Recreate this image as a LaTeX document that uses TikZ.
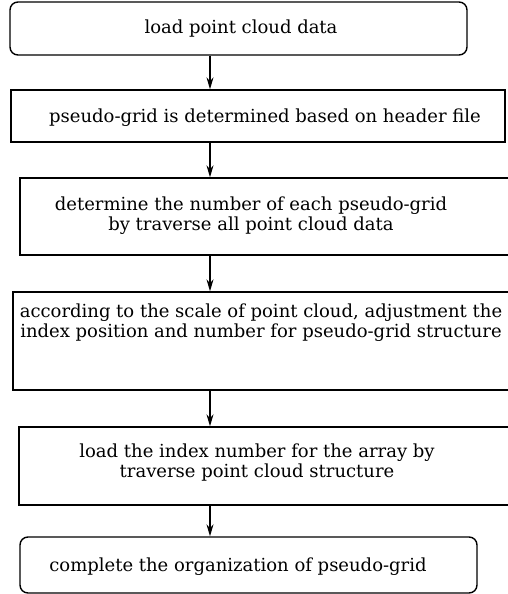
\documentclass[tikz,border=0pt]{standalone}
\usepackage{fontspec}
\setmainfont{DejaVu Serif}
\usetikzlibrary{arrows.meta}

\begin{document}
\begin{tikzpicture}[
  x=1pt, y=-1pt,
  stepbox/.style={draw, line width=1.4pt, inner sep=0pt},
  roundbox/.style={stepbox, rounded corners=8pt},
  txt/.style={align=center, inner sep=0pt, font=\fontsize{18}{20}\selectfont},
  arrow/.style={-{Stealth[length=12pt, width=7pt]}, line width=1.3pt}
]
  \useasboundingbox (0,0) rectangle (507,594);
  % boxes
  \node[roundbox, minimum width=457pt, minimum height=53pt] (load) at (238.5,28.5) {};
  \node[stepbox, minimum width=494pt, minimum height=52pt] (grid) at (258,116) {};
  \node[stepbox, minimum width=510pt, minimum height=77pt] (count) at (275,216.5) {};
  \node[stepbox, minimum width=517pt, minimum height=98pt] (adjust) at (271.5,341) {};
  \node[stepbox, minimum width=511pt, minimum height=78pt] (index) at (274.5,466) {};
  \node[roundbox, minimum width=457pt, minimum height=56pt] (done) at (248.5,565) {};
  % texts
  \node[txt] (loadtxt) at (241,29) {load point cloud data};
  \node[txt] (gridtxt) at (265,118) {pseudo-grid is determined based on header file};
  \node[txt] (counttxt) at (251,216) {determine the number of each pseudo-grid\\by traverse all point cloud data};
  \node[txt] (adjusttxt) at (261,323) {according to the scale of point cloud, adjustment the\\index position and number for pseudo-grid structure};
  \node[txt] (indextxt) at (257,463) {load the index number for the array by\\traverse point cloud structure};
  \node[txt] (donetxt) at (238,567) {complete the organization of pseudo-grid};
  % arrows
  \coordinate (ax) at (210,0);
  \draw[arrow] (load.south -| ax) -- (grid.north -| ax);
  \draw[arrow] (grid.south -| ax) -- (count.north -| ax);
  \draw[arrow] (count.south -| ax) -- (adjust.north -| ax);
  \draw[arrow] (adjust.south -| ax) -- (index.north -| ax);
  \draw[arrow] (index.south -| ax) -- (done.north -| ax);
\end{tikzpicture}
\end{document}
